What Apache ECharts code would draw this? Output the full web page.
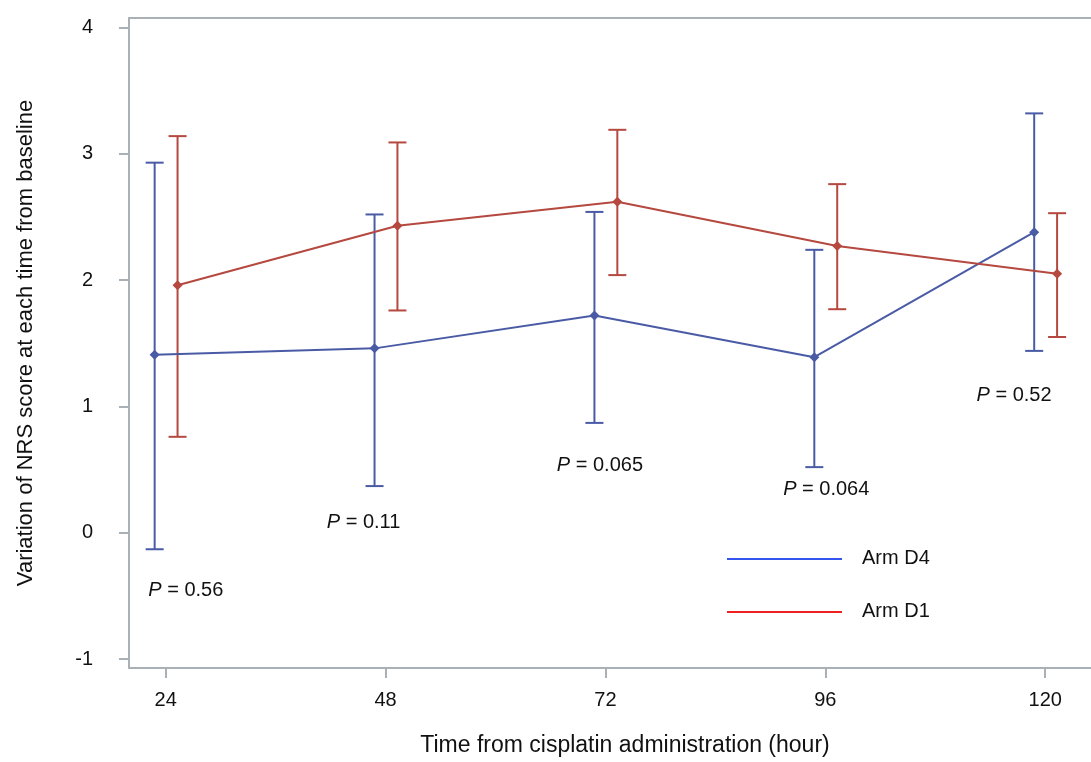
<!DOCTYPE html>
<html><head><meta charset="utf-8">
<script src="https://cdn.jsdelivr.net/npm/echarts@6/dist/echarts.min.js"></script>
<style>html,body{margin:0;padding:0;background:#fff}#c{width:1091px;height:762px}</style>
</head><body><div id="c"></div>
<script>
const hours = [24, 48, 72, 96, 120];
const d4Mean = [1.41, 1.46, 1.72, 1.39, 2.38];
const d4Low  = [-0.13, 0.37, 0.87, 0.52, 1.44];
const d4High = [2.93, 2.52, 2.54, 2.24, 3.32];
const d1Mean = [1.96, 2.43, 2.62, 2.27, 2.05];
const d1Low  = [0.76, 1.76, 2.04, 1.77, 1.55];
const d1High = [3.14, 3.09, 3.19, 2.76, 2.53];
const pValues = ['0.56', '0.11', '0.065', '0.064', '0.52'];
const pX = [26.2, 45.6, 71.4, 96.1, 116.6];
const pY = [-0.46, 0.08, 0.53, 0.34, 1.09];
const yTicks = [-1, 0, 1, 2, 3, 4];
const legendNames = ['Arm D4', 'Arm D1'];

const BLUE = '#4a5ba6', RED = '#b5483f';
const AXIS = '#aab1b6';
const FONT = 'Liberation Sans, Arial, sans-serif';
const OFF4 = -1.2, OFF1 = 1.3;

function errSeries(name, off, low, high, color) {
  return {
    type: 'custom', name: name, silent: true, z: 3,
    data: hours.map((h, i) => [h + off, low[i], high[i]]),
    renderItem: function (params, api) {
      const x = api.value(0);
      const p1 = api.coord([x, api.value(1)]);
      const p2 = api.coord([x, api.value(2)]);
      const w = 9;
      const st = { stroke: color, lineWidth: 2 };
      return { type: 'group', children: [
        { type: 'line', shape: { x1: p1[0], y1: p1[1], x2: p2[0], y2: p2[1] }, style: st },
        { type: 'line', shape: { x1: p1[0] - w, y1: p1[1], x2: p1[0] + w, y2: p1[1] }, style: st },
        { type: 'line', shape: { x1: p2[0] - w, y1: p2[1], x2: p2[0] + w, y2: p2[1] }, style: st }
      ]};
    },
    clip: false
  };
}

const chart = echarts.init(document.getElementById('c'));
chart.setOption({
  animation: false,
  textStyle: { fontFamily: FONT },
  grid: { left: 129, right: 0, top: 18, bottom: 93 },
  xAxis: [{
    type: 'value', min: 20, max: 125,
    name: 'Time from cisplatin administration (hour)', nameLocation: 'middle', nameGap: 66,
    nameTextStyle: { fontSize: 23, color: '#111', fontFamily: FONT, padding: [0, 0, 0, 30] },
    splitLine: { show: false },
    axisLine: { onZero: false, lineStyle: { color: AXIS, width: 2 } },
    axisTick: { show: true, length: 10, customValues: hours, lineStyle: { color: AXIS, width: 2 } },
    axisLabel: { customValues: hours, fontSize: 20, color: '#111', margin: 22, fontFamily: FONT }
  }, {
    type: 'value', min: 20, max: 125, position: 'top',
    splitLine: { show: false },
    axisLine: { onZero: false, lineStyle: { color: AXIS, width: 2 } },
    axisTick: { show: false }, axisLabel: { show: false }
  }],
  yAxis: {
    type: 'value', min: -1.07, max: 4.075,
    name: 'Variation of NRS score at each time from baseline', nameLocation: 'middle', nameGap: 92,
    nameRotate: 90,
    nameTextStyle: { fontSize: 22, color: '#111', fontFamily: FONT },
    splitLine: { show: false },
    axisLine: { show: true, onZero: false, lineStyle: { color: AXIS, width: 2 } },
    axisTick: { show: true, length: 10, customValues: yTicks, lineStyle: { color: AXIS, width: 2 } },
    axisLabel: { customValues: yTicks, fontSize: 20, color: '#111', margin: 36, fontFamily: FONT }
  },
  series: [
    errSeries('err D4', OFF4, d4Low, d4High, BLUE),
    errSeries('err D1', OFF1, d1Low, d1High, RED),
    {
      type: 'line', name: legendNames[0], z: 4,
      data: hours.map((h, i) => [h + OFF4, d4Mean[i]]),
      symbol: 'diamond', symbolSize: 10,
      itemStyle: { color: BLUE }, lineStyle: { color: BLUE, width: 2 }
    },
    {
      type: 'line', name: legendNames[1], z: 4,
      data: hours.map((h, i) => [h + OFF1, d1Mean[i]]),
      symbol: 'diamond', symbolSize: 10,
      itemStyle: { color: RED }, lineStyle: { color: RED, width: 2 }
    },
    {
      type: 'scatter', name: 'p', symbolSize: 0, silent: true,
      itemStyle: { opacity: 1, color: '#111' },
      data: pX.map((x, i) => [x, pY[i]]),
      label: {
        show: true, position: 'inside',
        formatter: (p) => '{i|P} = ' + pValues[p.dataIndex],
        fontSize: 20, color: '#111', fontFamily: FONT,
        rich: { i: { fontStyle: 'italic', fontSize: 20, color: '#111', fontFamily: FONT } }
      }
    }
  ],
  graphic: [
    { type: 'line', shape: { x1: 727, y1: 559, x2: 842, y2: 559 }, style: { stroke: '#3355ee', lineWidth: 2 } },
    { type: 'line', shape: { x1: 727, y1: 612, x2: 842, y2: 612 }, style: { stroke: '#ee2020', lineWidth: 2 } },
    { type: 'text', left: 862, top: 548, style: { text: legendNames[0], font: '20px ' + FONT, fill: '#111' } },
    { type: 'text', left: 862, top: 601, style: { text: legendNames[1], font: '20px ' + FONT, fill: '#111' } }
  ]
});
</script></body></html>
